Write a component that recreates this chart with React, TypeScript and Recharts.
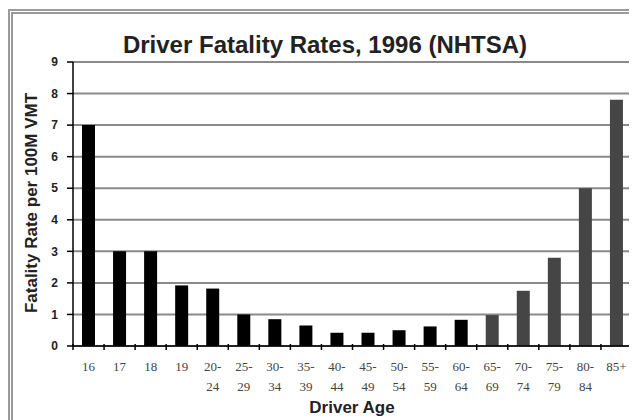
import { BarChart, Bar, XAxis, YAxis, CartesianGrid, Cell } from 'recharts';

const ages = ['16', '17', '18', '19', '20-24', '25-29', '30-34', '35-39', '40-44', '45-49', '50-54', '55-59', '60-64', '65-69', '70-74', '75-79', '80-84', '85+'];
const rates = [7.0, 3.0, 3.0, 1.92, 1.82, 1.0, 0.85, 0.65, 0.42, 0.42, 0.5, 0.62, 0.83, 0.98, 1.75, 2.8, 5.0, 7.8];
const yTicks = [0, 1, 2, 3, 4, 5, 6, 7, 8, 9];

const data = ages.map((age, i) => ({ age, rate: rates[i] }));

const font = "'Liberation Sans', Arial, sans-serif";

const AgeTick = (props: any) => {
  const { x, y, payload, index } = props;
  const half = payload.offset || 15.5;
  const label: string = payload.value;
  const dash = label.indexOf('-');
  const lines = dash >= 0 ? [label.slice(0, dash + 1), label.slice(dash + 1)] : [label];
  return (
    <g>
      <line x1={x - half} x2={x - half} y1={y - 10} y2={y - 4} stroke="#000" strokeWidth={1.5} />
      {index === ages.length - 1 && (
        <line x1={x + half} x2={x + half} y1={y - 10} y2={y - 4} stroke="#000" strokeWidth={1.5} />
      )}
      {lines.map((t, i) => (
        <text key={i} x={x} y={y + 17 + i * 20} textAnchor="middle" fontFamily="'Liberation Serif', serif" fontSize={13} fill="#444">
          {t}
        </text>
      ))}
    </g>
  );
};

export default function App() {
  return (
    <div style={{ position: 'relative', left: -8, top: -8, width: 637, height: 420 }}>
      <BarChart width={637} height={420} data={data} margin={{ top: 62, right: 5, left: 0, bottom: 0 }}>
        <CartesianGrid
          stroke="#8a8a8a"
          strokeWidth={2}
          verticalCoordinatesGenerator={({ offset }: any) => [offset.left + offset.width]}
        />
        <XAxis
          dataKey="age"
          height={74}
          interval={0}
          axisLine={{ stroke: '#000', strokeWidth: 1.5 }}
          tickLine={false}
          tick={<AgeTick />}
        />
        <YAxis
          width={73}
          domain={[0, 9]}
          ticks={yTicks}
          axisLine={{ stroke: '#000', strokeWidth: 1.5 }}
          tickLine={{ stroke: '#000', strokeWidth: 1.5 }}
          tickSize={6}
          tickMargin={9}
          tick={{ fontFamily: font, fontWeight: 'bold', fontSize: 12, fill: '#222' }}
        />
        <Bar dataKey="rate" barSize={13} isAnimationActive={false}>
          {data.map((_, i) => (
            <Cell key={i} fill={i >= 13 ? '#454545' : '#000'} />
          ))}
        </Bar>
      </BarChart>
      <div style={{ position: 'absolute', left: 8, top: 9, width: 640, height: 430, border: '5px double #9a9a9a', pointerEvents: 'none' }} />
      <div style={{ position: 'absolute', left: 0, width: 650, top: 33, textAlign: 'center', fontFamily: font, fontWeight: 'bold', fontSize: 24, lineHeight: '24px', color: '#222' }}>
        Driver Fatality Rates, 1996 (NHTSA)
      </div>
      <div style={{ position: 'absolute', left: 31, top: 203, transform: 'translate(-50%, -50%) rotate(-90deg)', whiteSpace: 'nowrap', fontFamily: font, fontWeight: 'bold', fontSize: 17, lineHeight: '17px', color: '#222' }}>
        Fatality Rate per 100M VMT
      </div>
      <div style={{ position: 'absolute', left: 252, width: 200, top: 399, textAlign: 'center', fontFamily: font, fontWeight: 'bold', fontSize: 17, lineHeight: '17px', color: '#222' }}>
        Driver Age
      </div>
    </div>
  );
}
